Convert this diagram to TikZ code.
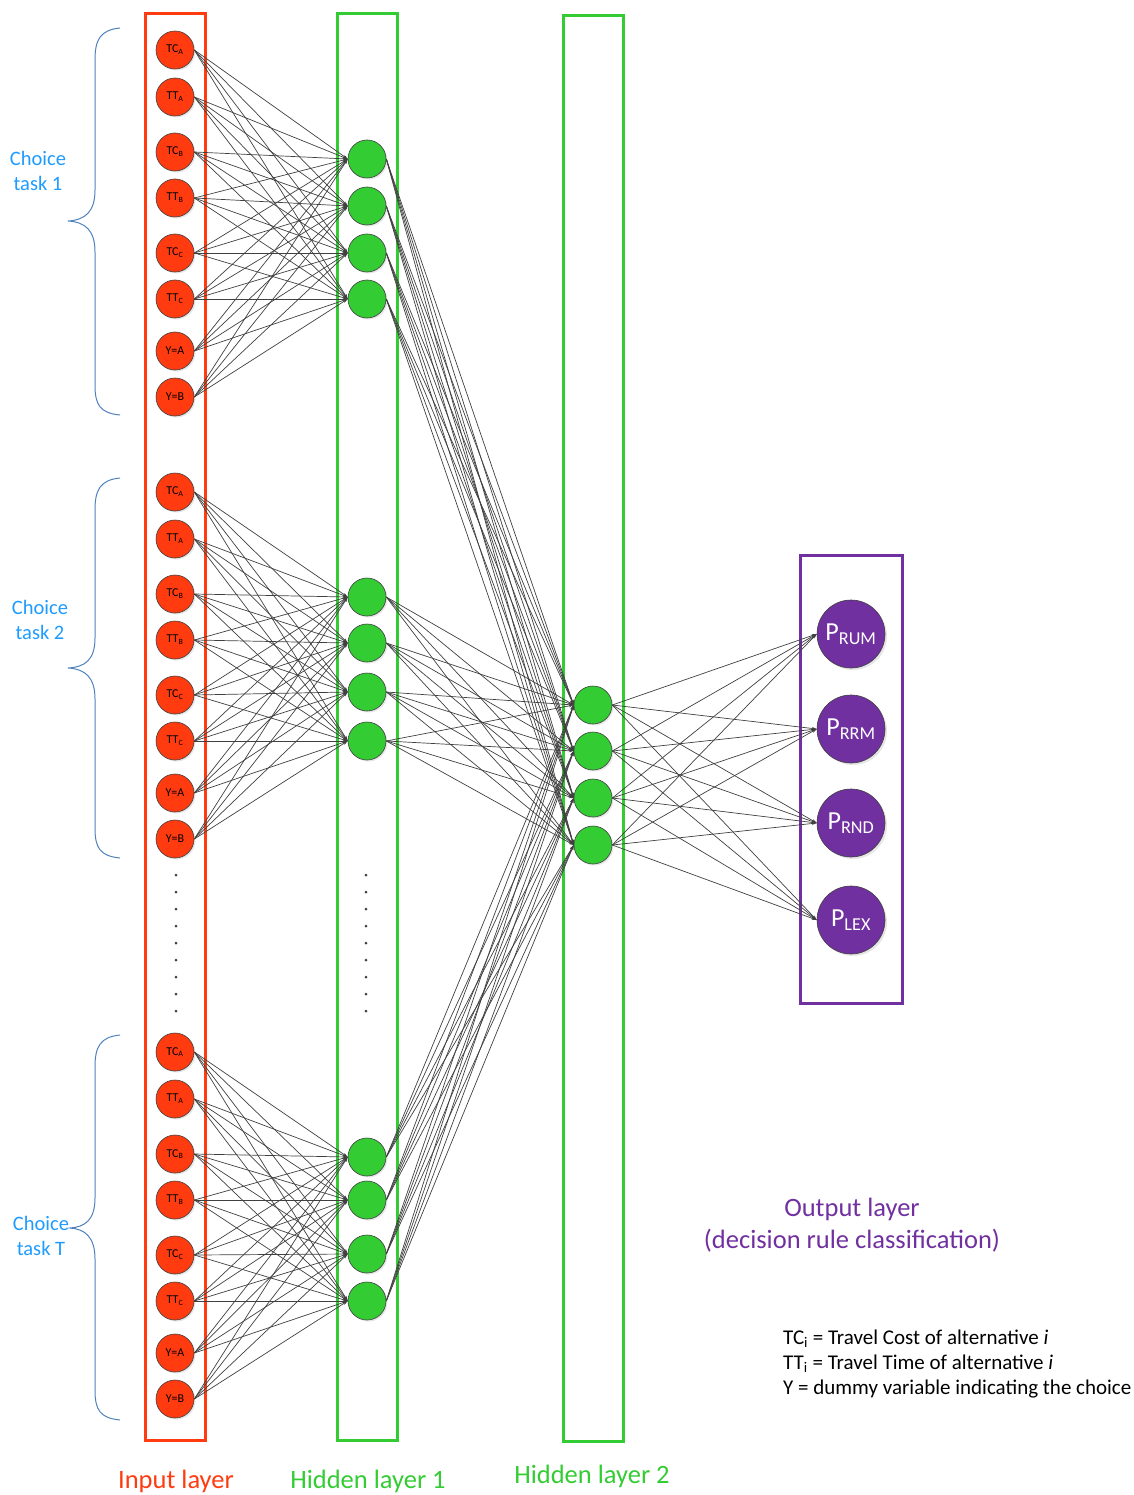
\documentclass[tikz,border=0pt]{standalone}
\usepackage{fontspec}
\setmainfont{Carlito}
\usetikzlibrary{arrows.meta,shadows}
\definecolor{inred}{RGB}{255,59,15}
\definecolor{hgreen}{RGB}{51,204,51}
\definecolor{opurple}{RGB}{112,48,160}
\definecolor{tblue}{RGB}{30,155,255}
\definecolor{bblue}{RGB}{79,129,189}
\definecolor{lgray}{RGB}{64,64,64}
\begin{document}
\begin{tikzpicture}[x=1pt,y=-1pt,
  inp/.style={circle,fill=inred,draw=lgray,line width=0.6pt,minimum size=38pt,inner sep=0pt,
    font=\fontsize{12}{13}\selectfont,drop shadow={shadow xshift=1.5pt,shadow yshift=-1.5pt,opacity=0.2}},
  hid/.style={circle,fill=hgreen,draw=lgray,line width=0.6pt,minimum size=38pt,inner sep=0pt,
    drop shadow={shadow xshift=1.5pt,shadow yshift=-1.5pt,opacity=0.2}},
  outn/.style={circle,fill=opurple,draw=lgray,line width=0.6pt,minimum size=68pt,inner sep=0pt,
    text=white,font=\fontsize{26}{28}\selectfont,drop shadow={shadow xshift=2pt,shadow yshift=-2pt,opacity=0.2}},
  conn/.style={draw=lgray,line width=0.7pt,-{Stealth[length=5pt,width=3pt]}},
  frame/.style={line width=3pt},
  brace/.style={draw=bblue,line width=1pt},
  dotn/.style={circle,fill=lgray,inner sep=0pt,minimum size=3pt},
  tasklab/.style={text=tblue,font=\fontsize{20.5}{25}\selectfont,align=center},
  laylab/.style={font=\fontsize{26.5}{32}\selectfont}
]
\useasboundingbox (0,0) rectangle (1133,1495);
% frames
\draw[frame,draw=inred] (145,14) rectangle (205,1440);
\draw[frame,draw=hgreen] (337,14) rectangle (397,1440);
\draw[frame,draw=hgreen] (563,16) rectangle (623,1441);
\draw[frame,draw=opurple] (800,555) rectangle (902,1003);
% input and hidden 1 nodes
\foreach \b/\base in {1/50,2/492,3/1052}{
  \foreach \k/\off/\lab in {1/0/TC\textsubscript{A},2/47/TT\textsubscript{A},3/102/TC\textsubscript{B},4/148/TT\textsubscript{B},5/203/TC\textsubscript{C},6/249/TT\textsubscript{C},7/301/Y=A,8/347/Y=B}
    \node[inp] (i\b-\k) at (175,\base+\off) {\lab};
}
\foreach \b/\ya/\yb/\yc/\yd in {1/159/206/253/299,2/597/643/692/741,3/1157/1200/1254/1301}{
  \node[hid] (h\b-1) at (367,\ya) {};
  \node[hid] (h\b-2) at (367,\yb) {};
  \node[hid] (h\b-3) at (367,\yc) {};
  \node[hid] (h\b-4) at (367,\yd) {};
}
% hidden 2
\foreach \k/\y in {1/705,2/751,3/798,4/845}
  \node[hid] (g\k) at (593,\y) {};
% outputs
\node[outn] (o1) at (851,634) {P\textsubscript{RUM}};
\node[outn] (o2) at (851,729) {P\textsubscript{RRM}};
\node[outn] (o3) at (851,823) {P\textsubscript{RND}};
\node[outn] (o4) at (851,920) {P\textsubscript{LEX}};
% connections
\foreach \b in {1,2,3}{
  \foreach \k in {1,...,8}
    \foreach \j in {1,...,4}
      \draw[conn] (i\b-\k.east) -- (h\b-\j.west);
  \foreach \k in {1,...,4}
    \foreach \j in {1,...,4}
      \draw[conn] (h\b-\k.east) -- (g\j.west);
}
\foreach \k in {1,...,4}
  \foreach \j in {1,...,4}
    \draw[conn] (g\k.east) -- (o\j.west);
% dots
\foreach \n in {0,...,8}{
  \node[dotn] (di\n) at (176,875+17*\n) {};
  \node[dotn] (dh\n) at (366,875+17*\n) {};
}
% braces
\draw[brace] (120,28) .. controls (100,30) and (95,40) .. (95,60) -- (95,190) .. controls (95,212) and (85,220) .. (68,221)
  .. controls (85,222) and (95,230) .. (95,252) -- (95,385) .. controls (95,405) and (100,413) .. (120,415);
\draw[brace] (120,478) .. controls (100,480) and (95,490) .. (95,510) -- (95,638) .. controls (95,660) and (85,667) .. (68,668)
  .. controls (85,669) and (95,677) .. (95,699) -- (95,828) .. controls (95,848) and (100,856) .. (120,858);
\draw[brace] (120,1035) .. controls (100,1037) and (95,1047) .. (95,1067) -- (95,1198) .. controls (95,1220) and (85,1227) .. (70,1228)
  .. controls (85,1229) and (95,1237) .. (95,1259) -- (95,1390) .. controls (95,1410) and (100,1418) .. (120,1420);
% task labels
\node[tasklab] (t1) at (38,171) {Choice\\task 1};
\node[tasklab] (t2) at (40,620) {Choice\\task 2};
\node[tasklab] (t3) at (41,1236) {Choice\\task T};
% layer labels
\node[laylab,text=inred] (l1) at (176,1481) {Input layer};
\node[laylab,text=hgreen] (l2) at (368,1481) {Hidden layer 1};
\node[laylab,text=hgreen] (l3) at (592,1476) {Hidden layer 2};
\node[laylab,text=opurple,align=center] (l4) at (852,1225) {Output layer\\(decision rule classification)};
% legend
\node[anchor=west,font=\fontsize{21}{25}\selectfont,align=left,inner sep=0pt] (leg) at (783,1364)
  {TC\textsubscript{i} = Travel Cost of alternative \textit{i}\\TT\textsubscript{i} = Travel Time of alternative \textit{i}\\Y = dummy variable indicating the choice};
\end{tikzpicture}
\end{document}
